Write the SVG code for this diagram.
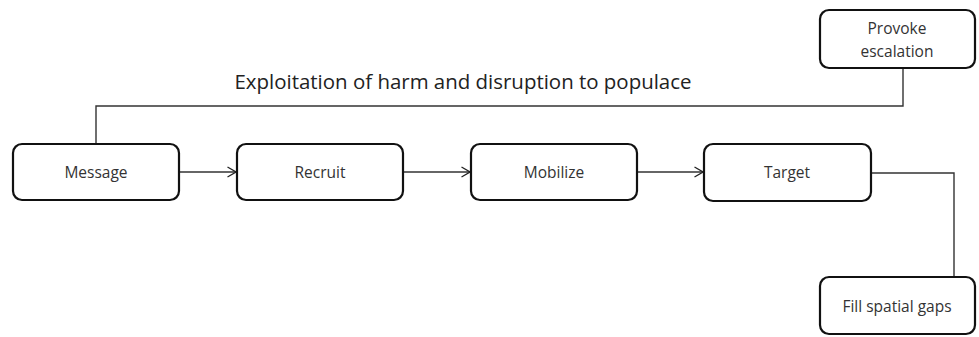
<svg xmlns="http://www.w3.org/2000/svg" width="979" height="337" viewBox="0 0 979 337">
  <defs>
    <marker id="arrow" viewBox="0 0 10 12" refX="9.5" refY="6" markerWidth="10" markerHeight="12" markerUnits="userSpaceOnUse" orient="auto">
      <path d="M1,1 L9.5,6 L1,11" fill="none" stroke="#222" stroke-width="1.3"/>
    </marker>
  </defs>
  <style>
    .box { fill: #fff; stroke: #111; stroke-width: 2.2; }
    .lbl { font-family: "Open Sans", "Liberation Sans", sans-serif; font-size: 15.5px; fill: #333; text-anchor: middle; }
    .title { font-family: "Open Sans", "Liberation Sans", sans-serif; font-size: 20px; fill: #222; text-anchor: middle; }
    .conn { fill: none; stroke: #333; stroke-width: 1.4; }
  </style>
  <rect width="979" height="337" fill="#fff"/>

  <text class="title" x="463" y="89" textLength="457" lengthAdjust="spacingAndGlyphs">Exploitation of harm and disruption to populace</text>

  <g id="connectors">
    <path class="conn" d="M179,172 H236" marker-end="url(#arrow)"/>
    <path class="conn" d="M403,172 H470" marker-end="url(#arrow)"/>
    <path class="conn" d="M637,172 H703" marker-end="url(#arrow)"/>
    <path class="conn" d="M96,144 V106 H903 V68"/>
    <path class="conn" d="M871,173 H954 V277"/>
  </g>

  <g id="message">
    <rect class="box" x="13" y="144" width="166" height="56" rx="9"/>
    <text class="lbl" x="96" y="178">Message</text>
  </g>
  <g id="recruit">
    <rect class="box" x="237" y="144" width="166" height="56" rx="9"/>
    <text class="lbl" x="320" y="178">Recruit</text>
  </g>
  <g id="mobilize">
    <rect class="box" x="471" y="144" width="166" height="56" rx="9"/>
    <text class="lbl" x="554" y="178">Mobilize</text>
  </g>
  <g id="target">
    <rect class="box" x="704" y="144" width="167" height="57" rx="9"/>
    <text class="lbl" x="787" y="178">Target</text>
  </g>
  <g id="provoke-escalation">
    <rect class="box" x="820" y="10" width="155" height="58" rx="9"/>
    <text class="lbl" x="897" y="34">Provoke</text>
    <text class="lbl" x="897" y="57">escalation</text>
  </g>
  <g id="fill-spatial-gaps">
    <rect class="box" x="820" y="277" width="155" height="57" rx="9"/>
    <text class="lbl" x="897" y="312">Fill spatial gaps</text>
  </g>
</svg>
